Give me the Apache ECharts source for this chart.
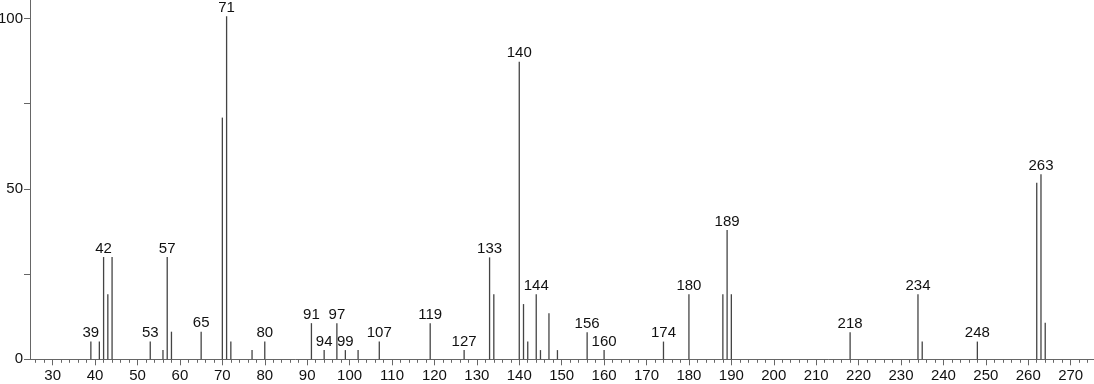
<!DOCTYPE html>
<html>
<head>
<meta charset="utf-8">
<script src="https://cdn.jsdelivr.net/npm/echarts@6/dist/echarts.min.js"></script>
<style>
html,body{margin:0;padding:0;background:#fff;}
#c{width:1094px;height:384px;}
</style>
</head>
<body>
<div id="c"></div>
<script>
// m/z values and relative intensities
const masses = [39, 41, 42, 43, 44, 53, 56, 57, 58, 65, 70, 71, 72, 77, 80,
  91, 94, 97, 99, 102, 107, 119, 127, 133, 134, 140, 141, 142, 144, 145, 147, 149,
  156, 160, 174, 180, 188, 189, 190, 218, 234, 235, 248, 262, 263, 264];
const intensities = [5.2, 5.2, 30, 19.1, 30, 5.2, 2.7, 30, 8.1, 8.1, 70.9, 100.6, 5.2, 2.7, 5.2,
  10.6, 2.7, 10.6, 2.7, 2.7, 5.2, 10.6, 2.7, 29.9, 19.1, 87.3, 16.2, 5.2, 19.1, 2.7, 13.5, 2.7,
  7.9, 2.7, 5.2, 19.1, 19.1, 37.9, 19.1, 7.9, 19.1, 5.2, 5.2, 51.8, 54.3, 10.7];
const labeledMasses = [39, 42, 53, 57, 65, 71, 80, 91, 94, 97, 99, 107, 119, 127, 133, 140,
  144, 156, 160, 174, 180, 189, 218, 234, 248, 263];
const xMajorTicks = [30, 40, 50, 60, 70, 80, 90, 100, 110, 120, 130, 140, 150, 160, 170,
  180, 190, 200, 210, 220, 230, 240, 250, 260, 270];
const xMinorTicks = [];
for (let v = 26; v <= 274; v += 2) { if (v % 10 !== 0) xMinorTicks.push(v); }
const yTicks = [0, 25, 50, 75, 100];
const yLabels = [0, 50, 100];

const chart = echarts.init(document.getElementById('c'), null, {renderer: 'canvas'});
const axisColor = '#666';
const font = 'Liberation Sans, Arial, sans-serif';
const data = masses.map((m, i) => ({
  value: [m, intensities[i]],
  label: {show: labeledMasses.indexOf(m) >= 0}
}));
const xMin = 24.65, xMax = 275.5;
chart.setOption({
  animation: false,
  backgroundColor: '#fff',
  grid: {left: 30, right: 0, top: 0, bottom: 24.7, containLabel: false, outerBoundsMode: 'none'},
  xAxis: [{
    type: 'value', min: xMin, max: xMax,
    axisLine: {show: true, lineStyle: {color: axisColor, width: 1}},
    axisTick: {show: true, customValues: xMajorTicks, length: 6, lineStyle: {color: axisColor}},
    axisLabel: {customValues: xMajorTicks, color: '#111', fontSize: 15, fontFamily: font, margin: 9},
    splitLine: {show: false}
  }, {
    type: 'value', min: xMin, max: xMax, position: 'bottom',
    axisLine: {show: false},
    axisTick: {show: true, customValues: xMinorTicks, length: 3.5, lineStyle: {color: axisColor}},
    axisLabel: {show: false},
    splitLine: {show: false}
  }],
  yAxis: {
    type: 'value', min: 0, max: 105.4,
    axisLine: {show: true, lineStyle: {color: axisColor, width: 1}},
    axisTick: {show: true, customValues: yTicks, length: 6, lineStyle: {color: axisColor}},
    axisLabel: {customValues: yLabels, color: '#111', fontSize: 15, fontFamily: font, margin: 7},
    splitLine: {show: false}
  },
  series: [{
    type: 'bar',
    xAxisIndex: 0,
    barWidth: 1.3,
    itemStyle: {color: '#444'},
    label: {
      position: 'top', distance: 1, color: '#111', fontSize: 15,
      fontFamily: font,
      formatter: p => String(p.value[0])
    },
    data: data
  }]
});
</script>
</body>
</html>
